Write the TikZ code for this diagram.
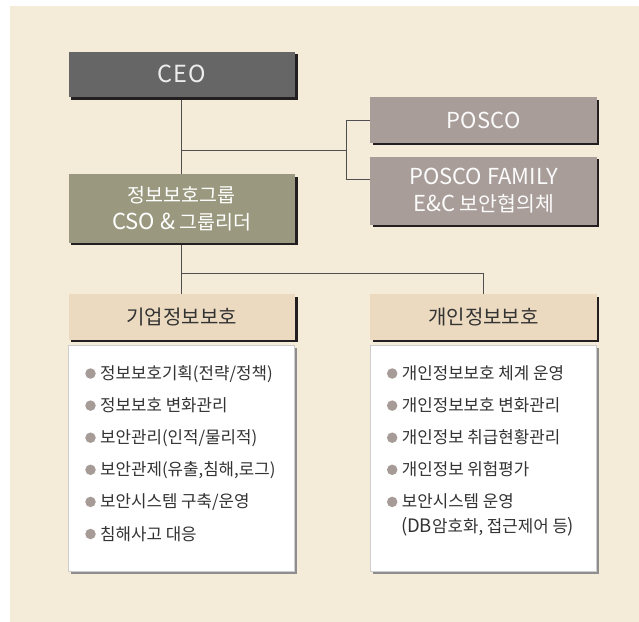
\documentclass[tikz,border=0pt]{standalone}
\usepackage{fontspec}
\setmainfont{Noto Sans CJK KR}
\newfontfamily\spacedA[LetterSpace=4]{Noto Sans CJK KR}
\newfontfamily\spacedB[LetterSpace=2]{Noto Sans CJK KR}
\usetikzlibrary{shadows}
\definecolor{bgc}{HTML}{F4ECD8}
\definecolor{ceoc}{HTML}{666666}
\definecolor{grpc}{HTML}{9A997F}
\definecolor{posc}{HTML}{A89D99}
\definecolor{hdrc}{HTML}{EBDAC0}
\definecolor{shdc}{HTML}{231F20}
\definecolor{lshc}{HTML}{8E8E8E}
\definecolor{lbdc}{HTML}{CDCDCD}
\definecolor{linec}{HTML}{4F4F4F}
\definecolor{bulc}{HTML}{A69B97}
\definecolor{txtc}{HTML}{333333}
\newcommand\LatA[1]{{\fontsize{22}{26.6}\selectfont #1}}
\newcommand\LatB[1]{{\fontsize{18.5}{24.5}\selectfont #1}}
\begin{document}
\begin{tikzpicture}[x=1pt,y=-1pt,
  orgbox/.style={rectangle, inner sep=0pt, minimum width=226.5pt, align=center,
    drop shadow={shadow xshift=2.5pt, shadow yshift=-2.5pt, fill=shdc, opacity=1}},
  ceobox/.style={orgbox, fill=ceoc, text=white!93!black, minimum height=45.5pt, font=\fontsize{23.5}{26}\spacedA},
  grpbox/.style={orgbox, fill=grpc, text=white, minimum height=68.5pt, font=\fontsize{19.5}{26.6}\selectfont},
  posbox/.style={orgbox, fill=posc, text=white!96!posc, minimum height=45.2pt, font=\fontsize{22}{26}\spacedB},
  fambox/.style={orgbox, fill=posc, text=white!96!posc, minimum height=68pt, font=\fontsize{20.5}{26.6}\selectfont},
  hdrbox/.style={orgbox, fill=hdrc, text=txtc, minimum height=45.5pt, font=\fontsize{20}{22}\selectfont},
  listbox/.style={rectangle, inner sep=0pt, minimum width=226pt, minimum height=226pt, fill=white, draw=lbdc, line width=0.6pt,
    drop shadow={shadow xshift=2.2pt, shadow yshift=-2.2pt, fill=lshc, opacity=1}},
  bul/.style={circle, fill=bulc, inner sep=0pt, minimum size=10.5pt},
  item/.style={anchor=base west, inner sep=0pt, text=txtc, font=\fontsize{16.8}{24.5}\selectfont, align=left},
  conn/.style={draw=linec, line width=0.85pt}
]
\useasboundingbox (0,0) rectangle (639,621);
\fill[white] (-5,-5) rectangle (645,630);
\fill[bgc] (10.2,6) rectangle (645,630);

\coordinate (j1) at (181.75,150.6);
\coordinate (j2) at (346.6,150.6);
\coordinate (famin) at (370,179);
\coordinate (j3) at (181.75,273.3);
\coordinate (hdrRtop) at (483.5,294.5);
\coordinate (ceobot) at (181.75,97);
\coordinate (grptop) at (181.75,174.3);
\coordinate (grpbot) at (181.75,242.8);
\coordinate (hdrLtop) at (181.75,294.5);
\coordinate (poscoin) at (370,120.7);

% connectors
\draw[conn] (ceobot) -- (grptop);
\draw[conn] (j1) -- (j2);
\draw[conn] (poscoin) -| (j2) |- (famin);
\draw[conn] (grpbot) -- (hdrLtop);
\draw[conn] (j3) -| (hdrRtop);

\node[ceobox] (ceo) at (181.75,74.25) {CEO};
\node[grpbox] (grp) at (181.75,208.5) {정보보호그룹\\\LatA{CSO \&} 그룹리더};
\node[posbox] (posco) at (483.5,120) {POSCO};
\node[fambox] (fam) at (483.5,190.5) {\LatA{POSCO FAMILY}\\\LatA{E\&C} 보안협의체};
\node[hdrbox] (hdrL) at (181.75,317.2) {기업정보보호};
\node[hdrbox] (hdrR) at (483.5,317.2) {개인정보보호};
\node[listbox] (listL) at (181.5,458.4) {};
\node[listbox] (listR) at (483.3,458.4) {};

% left list
\node[bul] (bL1) at (90.5,373.5) {};
\node[item] (iL1) at (100,379.5) {정보보호기획(전략/정책)};
\node[bul] (bL2) at (90.5,405.6) {};
\node[item] (iL2) at (100,411.6) {정보보호 변화관리};
\node[bul] (bL3) at (90.5,437.7) {};
\node[item] (iL3) at (100,443.7) {보안관리(인적/물리적)};
\node[bul] (bL4) at (90.5,469.8) {};
\node[item] (iL4) at (100,475.8) {보안관제(유출,침해,로그)};
\node[bul] (bL5) at (90.5,501.9) {};
\node[item] (iL5) at (100,507.9) {보안시스템 구축/운영};
\node[bul] (bL6) at (90.5,534.0) {};
\node[item] (iL6) at (100,540.0) {침해사고 대응};

% right list
\node[bul] (bR1) at (392.2,373.5) {};
\node[item] (iR1) at (401.7,379.5) {개인정보보호 체계 운영};
\node[bul] (bR2) at (392.2,405.6) {};
\node[item] (iR2) at (401.7,411.6) {개인정보보호 변화관리};
\node[bul] (bR3) at (392.2,437.7) {};
\node[item] (iR3) at (401.7,443.7) {개인정보 취급현황관리};
\node[bul] (bR4) at (392.2,469.8) {};
\node[item] (iR4) at (401.7,475.8) {개인정보 위험평가};
\node[bul] (bR5) at (392.2,501.9) {};
\node[item] (iR5) at (401.7,507.9) {보안시스템 운영};
\node[item] (iR6) at (400.8,532.5) {\LatB{(DB}암호화, 접근제어 등\LatB{)}};
\end{tikzpicture}
\end{document}
